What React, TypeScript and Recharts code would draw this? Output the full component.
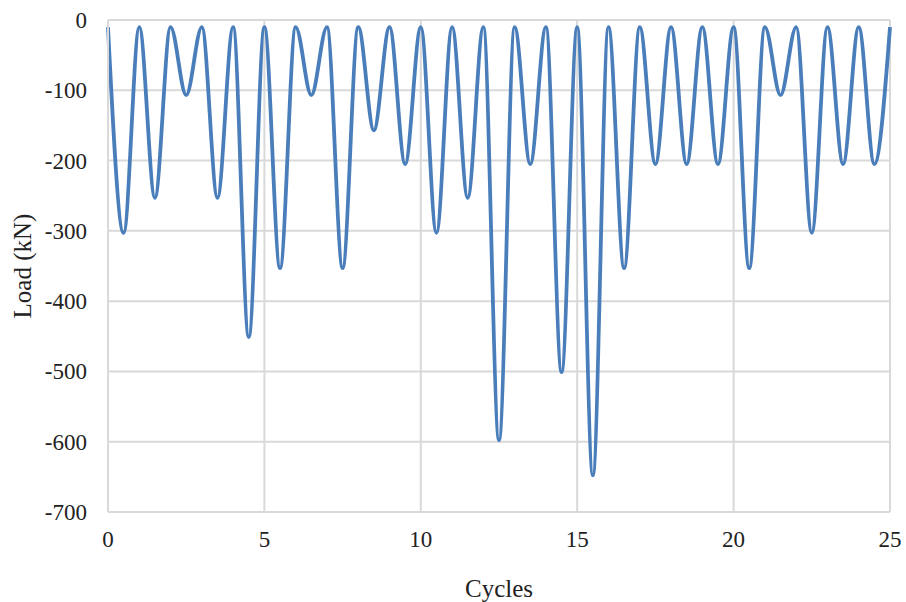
import React from 'react';
import { LineChart, Line, XAxis, YAxis, CartesianGrid, Label } from 'recharts';

// Load at the start/end of each cycle (crest), kN
const peakLoad = -10;
// Minimum load reached in each of the 25 cycles (trough at mid-cycle), kN
const cycleMinima = [
  -303, -253, -107, -253, -451, -353, -107, -353, -157, -205,
  -303, -253, -598, -205, -501, -648, -353, -205, -205, -205,
  -353, -107, -303, -205, -205,
];
const xTicks = [0, 5, 10, 15, 20, 25];
const yTicks = [-700, -600, -500, -400, -300, -200, -100, 0];

const data: { cycle: number; load: number }[] = [];
cycleMinima.forEach((m, i) => {
  data.push({ cycle: i, load: peakLoad });
  data.push({ cycle: i + 0.5, load: m });
});
data.push({ cycle: cycleMinima.length, load: peakLoad });

const FONT = '"Liberation Serif", "Times New Roman", serif';
const GRID = '#d9d9d9';
const TEXT = '#222222';

const XTick = (props: any) => {
  const { x, y, payload } = props;
  return (
    <text
      x={x}
      y={y}
      dy="0.71em"
      textAnchor="middle"
      fontFamily={FONT}
      fontSize={23}
      fill={TEXT}
      style={{ fontFamily: FONT }}
    >
      {payload.value}
    </text>
  );
};

const YTick = (props: any) => {
  const { x, y, payload } = props;
  return (
    <text
      x={x}
      y={y}
      dy="0.35em"
      textAnchor="end"
      fontFamily={FONT}
      fontSize={23}
      fill={TEXT}
      style={{ fontFamily: FONT }}
    >
      {payload.value}
    </text>
  );
};

const XTitle = (props: any) => {
  const vb = props.viewBox || { x: 0, y: 0, width: 0, height: 0 };
  return (
    <text
      x={vb.x + vb.width / 2}
      y={vb.y + 76}
      dy="0.35em"
      textAnchor="middle"
      fontFamily={FONT}
      fontSize={25}
      fill={TEXT}
    >
      Cycles
    </text>
  );
};

const YTitle = (props: any) => {
  const vb = props.viewBox || { x: 0, y: 0, width: 0, height: 0 };
  const cx = 22;
  const cy = vb.y + vb.height / 2;
  return (
    <text
      x={cx}
      y={cy}
      dy="0.35em"
      textAnchor="middle"
      transform={`rotate(-90, ${cx}, ${cy})`}
      fontFamily={FONT}
      fontSize={25}
      fill={TEXT}
    >
      Load (kN)
    </text>
  );
};

export default function App() {
  return (
    <div
      style={{
        position: 'absolute',
        left: 0,
        top: 0,
        width: 906,
        height: 602,
        background: '#fff',
        fontFamily: FONT,
      }}
    >
      <LineChart
        width={906}
        height={602}
        data={data}
        margin={{ top: 20, right: 16, bottom: 0, left: 0 }}
        style={{ fontFamily: FONT }}
      >
        <CartesianGrid stroke={GRID} strokeWidth={2} />
        <XAxis
          dataKey="cycle"
          type="number"
          domain={[0, 25]}
          ticks={xTicks}
          interval={0}
          height={90}
          tickLine={false}
          axisLine={{ stroke: GRID, strokeWidth: 2 }}
          tickMargin={13}
          tick={<XTick />}
        >
          <Label content={<XTitle />} />
        </XAxis>
        <YAxis
          type="number"
          domain={[-700, 0]}
          ticks={yTicks}
          interval={0}
          width={108}
          tickLine={false}
          axisLine={{ stroke: GRID, strokeWidth: 2 }}
          tickMargin={15}
          tick={<YTick />}
        >
          <Label content={<YTitle />} />
        </YAxis>
        <Line
          type="monotone"
          dataKey="load"
          stroke="#4a7ebb"
          strokeWidth={3.8}
          dot={false}
          activeDot={false}
          isAnimationActive={false}
        />
      </LineChart>
    </div>
  );
}
